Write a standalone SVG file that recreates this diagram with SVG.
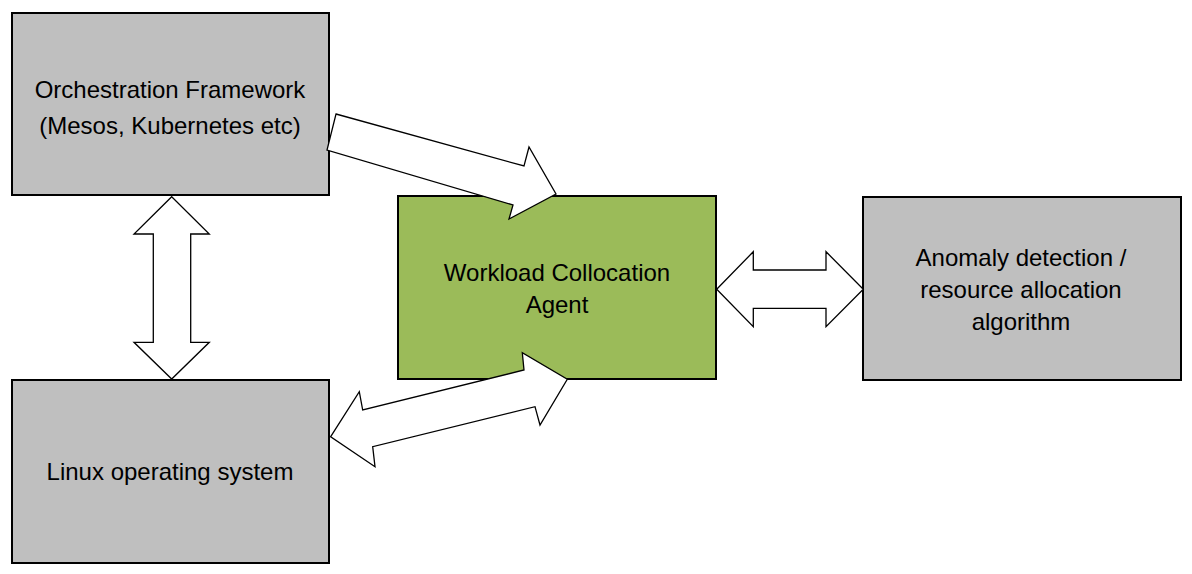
<svg xmlns="http://www.w3.org/2000/svg" width="1192" height="574" viewBox="0 0 1192 574">
<style>
.box{fill:#bfbfbf;stroke:#000;stroke-width:2}
.green{fill:#9bbb59;stroke:#000;stroke-width:2}
.arr{fill:#fff;stroke:#000;stroke-width:1.3;stroke-linejoin:miter}
text{font-family:"Liberation Sans",Arial,sans-serif;font-size:24px;fill:#000;text-anchor:middle}
</style>
<rect width="1192" height="574" fill="#fff"/>
<g id="orchestration">
<rect class="box" x="12" y="13" width="317" height="182"/>
<text x="170" y="98">Orchestration Framework</text>
<text x="170" y="134">(Mesos, Kubernetes etc)</text>
</g>
<g id="agent">
<rect class="green" x="398" y="196" width="318" height="183"/>
<text x="557" y="281">Workload Collocation</text>
<text x="557" y="313">Agent</text>
</g>
<g id="anomaly">
<rect class="box" x="863" y="197" width="318" height="183"/>
<text x="1021" y="266">Anomaly detection /</text>
<text x="1021" y="298">resource allocation</text>
<text x="1021" y="330">algorithm</text>
</g>
<g id="linux">
<rect class="box" x="12" y="380" width="317" height="183"/>
<text x="170" y="480">Linux operating system</text>
</g>
<g id="connectors">
<polygon class="arr" points="336,114 524,166 529,147 556,194 509,219 513,205 327,150"/>
<polygon class="arr" points="330.7,436.7 359.3,391.7 362.7,410 524,370 522.3,352.7 567.3,379.3 540,425 535,406.7 372.7,446.7 375,466.7"/>
<polygon class="arr" points="171.7,196.7 209.3,234 190.7,234 190.7,342.3 209.3,342.3 171.7,379 134,342.3 153.3,342.3 153.3,234 134,234"/>
<polygon class="arr" points="716.7,289.3 753.3,251.7 753.3,270 826,270 826,251.7 863.3,289.3 826,326.7 826,308.3 753.3,308.3 753.3,326.7"/>
</g>
</svg>
